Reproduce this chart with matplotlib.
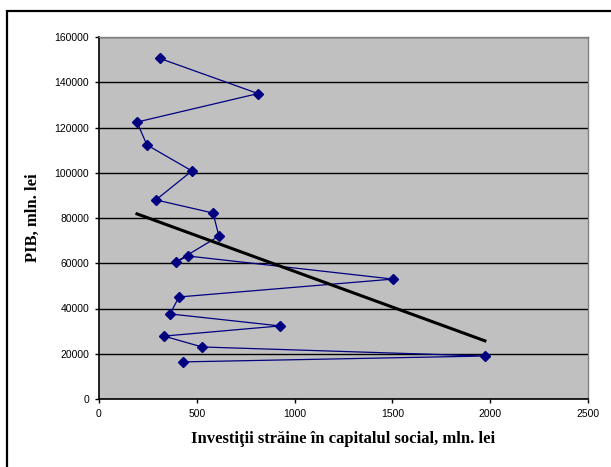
import matplotlib.pyplot as plt
import numpy as np
from matplotlib.patches import Rectangle

# foreign investment in share capital vs GDP, mln. lei
investitii = [312, 813, 194, 245, 475, 291, 583, 613, 394, 455, 1503,
              409, 363, 925, 332, 527, 1973, 429]
pib = [150500, 135000, 122400, 112300, 100800, 88000, 82200, 72000, 60600,
       63200, 53000, 45100, 37600, 32300, 27800, 23000, 19000, 16400]

x_ticks = [0, 500, 1000, 1500, 2000, 2500]
y_ticks = list(range(0, 160001, 20000))

fig = plt.figure(figsize=(6.11, 4.67), dpi=100)
ax = fig.add_axes([99 / 611, 1 - 399 / 467, 489 / 611, 362 / 467])
ax.set_facecolor('#c0c0c0')

# chart-area frame
fig.patches.append(Rectangle((6.5 / 611, -0.1), 1.2, 1 - 10.5 / 467 + 0.1,
                             transform=fig.transFigure, fill=False,
                             edgecolor='black', linewidth=1.6))

ax.plot(investitii, pib, color='#000080', linewidth=0.9, marker='D',
        markersize=5.5, markerfacecolor='#000080', markeredgecolor='#000080',
        zorder=3)

# linear trend line
k, b = np.polyfit(investitii, pib, 1)
xs = np.array([min(investitii), max(investitii)])
ax.plot(xs, k * xs + b, color='black', linewidth=2.2, zorder=4)

ax.set_xlim(0, 2500)
ax.set_ylim(0, 160000)
ax.set_xticks(x_ticks)
ax.set_yticks(y_ticks)
ax.yaxis.grid(True, color='black', linewidth=1.0)
ax.set_axisbelow(True)

for s in ['top', 'right']:
    ax.spines[s].set_color('#808080')
    ax.spines[s].set_linewidth(1.0)
for s in ['left', 'bottom']:
    ax.spines[s].set_color('black')
    ax.spines[s].set_linewidth(1.2)

ax.tick_params(direction='out', length=3, width=1, colors='black',
               labelsize=7.5, pad=4)
for lab in ax.get_xticklabels() + ax.get_yticklabels():
    lab.set_fontfamily('Liberation Sans')

ax.set_xlabel('Investiţii străine în capitalul social, mln. lei',
              fontfamily='Liberation Serif', fontweight='bold', fontsize=12,
              labelpad=9)
ax.set_ylabel('PIB, mln. lei', fontfamily='Liberation Serif',
              fontweight='bold', fontsize=12, labelpad=10)

fig.savefig('out.png', dpi=100)
